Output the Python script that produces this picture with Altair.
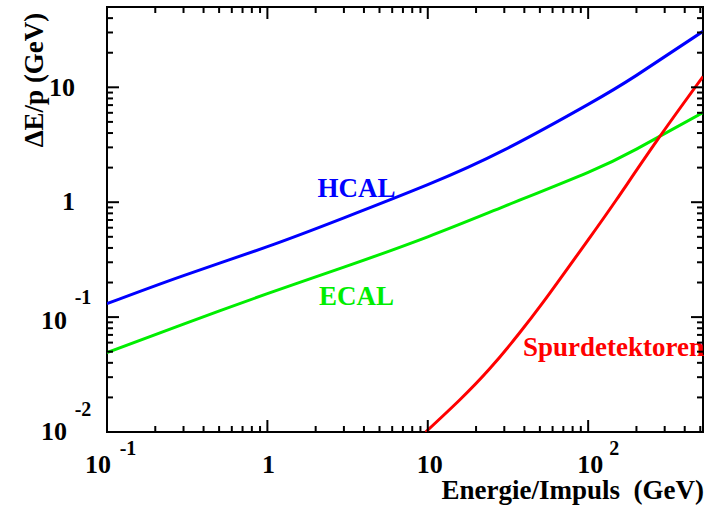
import altair as alt
import pandas as pd

# ---- data ----
hcal_e = [0.1, 0.3, 1, 3, 10, 30, 100, 200, 520]
hcal_de = [0.131, 0.23, 0.41, 0.73, 1.42, 2.85, 7.1, 12.7, 30.7]
ecal_e = [0.1, 0.3, 1, 3, 10, 30, 100, 200, 520]
ecal_de = [0.049, 0.087, 0.16, 0.272, 0.50, 0.92, 1.82, 2.90, 6.04]
trk_p = [9.7, 15.8, 24.3, 37.4, 52, 66, 100, 150, 271, 520]
trk_dp = [0.010, 0.019, 0.0355, 0.073, 0.133, 0.21, 0.47, 1.05, 3.5, 12.4]

series_names = ["HCAL", "ECAL", "Spurdetektoren"]
series_colors = ["#0000ff", "#00ee00", "#ff0000"]
label_x = [3.6, 3.6, 144]
label_y = [1.29, 0.150, 0.054]

x_major = [0.1, 1, 10, 100]
x_major_text = ["10", "1", "10", "10"]
x_minor = [0.2, 0.3, 0.4, 0.5, 0.6, 0.7, 0.8, 0.9,
           2, 3, 4, 5, 6, 7, 8, 9,
           20, 30, 40, 50, 60, 70, 80, 90,
           200, 300, 400, 500]
y_major = [0.01, 0.1, 1, 10]
y_major_text = ["10", "10", "1", "10"]
y_minor = [0.02, 0.03, 0.04, 0.05, 0.06, 0.07, 0.08, 0.09,
           0.2, 0.3, 0.4, 0.5, 0.6, 0.7, 0.8, 0.9,
           2, 3, 4, 5, 6, 7, 8, 9,
           20, 30, 40, 50]
x_exp_text = ["-1", "", "", "2"]
y_exp_text = ["-2", "-1", "", ""]

x_title = "Energie/Impuls\u00a0 (GeV)"
y_title = "ΔE/p (GeV)"

x_domain = [0.1, 520]
y_domain = [0.01, 50]

W, H = 596, 425
FONT = "Liberation Serif"

curves = pd.concat([
    pd.DataFrame({"x": hcal_e, "y": hcal_de, "s": "HCAL"}),
    pd.DataFrame({"x": ecal_e, "y": ecal_de, "s": "ECAL"}),
    pd.DataFrame({"x": trk_p, "y": trk_dp, "s": "Spurdetektoren"}),
])
labels = pd.DataFrame({"x": label_x, "y": label_y, "s": series_names})

xs = alt.Scale(type="log", domain=x_domain, nice=False)
ys = alt.Scale(type="log", domain=y_domain, nice=False)
cs = alt.Scale(domain=series_names, range=series_colors)

lines = alt.Chart(curves).mark_line(strokeWidth=3, clip=True, interpolate="natural").encode(
    x=alt.X("x:Q", scale=xs, axis=None),
    y=alt.Y("y:Q", scale=ys, axis=None),
    color=alt.Color("s:N", scale=cs, legend=None),
    detail="s:N",
)

texts = alt.Chart(labels).mark_text(font=FONT, fontWeight="bold", fontSize=27,
                                    align="center", baseline="middle").encode(
    x=alt.X("x:Q", scale=xs, axis=None),
    y=alt.Y("y:Q", scale=ys, axis=None),
    text="s:N",
    color=alt.Color("s:N", scale=cs, legend=None),
)


def xticks(vals, y0, y1):
    return alt.Chart(pd.DataFrame({"v": vals})).mark_rule(color="black", strokeWidth=2).encode(
        x=alt.X("v:Q", scale=xs, axis=None), y=alt.value(y0), y2=alt.value(y1))


def yticks(vals, x0, x1):
    return alt.Chart(pd.DataFrame({"v": vals})).mark_rule(color="black", strokeWidth=2).encode(
        y=alt.Y("v:Q", scale=ys, axis=None), x=alt.value(x0), x2=alt.value(x1))


MAJ, MIN = 12, 6
tick_layers = [
    xticks(x_major, H, H - MAJ), xticks(x_minor, H, H - MIN),
    xticks(x_major, 0, MAJ), xticks(x_minor, 0, MIN),
    yticks(y_major, 0, MAJ), yticks(y_minor, 0, MIN),
    yticks(y_major, W, W - MAJ), yticks(y_minor, W, W - MIN),
]


def xlab(i, text_list, dx, ypix, size):
    return alt.Chart(pd.DataFrame({"v": [x_major[i]], "t": [text_list[i]]})).mark_text(
        font=FONT, fontWeight="bold", fontSize=size, align="center", baseline="middle",
        dx=dx, color="black"
    ).encode(x=alt.X("v:Q", scale=xs, axis=None), y=alt.value(ypix), text="t:N")


def ylab(i, text_list, xpix, dy, size, align):
    return alt.Chart(pd.DataFrame({"v": [y_major[i]], "t": [text_list[i]]})).mark_text(
        font=FONT, fontWeight="bold", fontSize=size, align=align, baseline="middle",
        dy=dy, color="black"
    ).encode(y=alt.Y("v:Q", scale=ys, axis=None), x=alt.value(xpix), text="t:N")


LBL = 26
EXP = 20
label_layers = [
    # x axis: base numbers
    xlab(0, x_major_text, -9, H + 33, LBL),
    xlab(1, x_major_text, 1, H + 33, LBL),
    xlab(2, x_major_text, 2, H + 33, LBL),
    xlab(3, x_major_text, 2, H + 33, LBL),
    # x axis: exponents
    xlab(0, x_exp_text, 21, H + 17, EXP),
    xlab(3, x_exp_text, 26, H + 17, EXP),
    # y axis: base numbers
    ylab(0, y_major_text, -40, 0, LBL, "right"),
    ylab(1, y_major_text, -40, 4, LBL, "right"),
    ylab(2, y_major_text, -32, 0, LBL, "right"),
    ylab(3, y_major_text, -32, 1, LBL, "right"),
    # y axis: exponents
    ylab(0, y_exp_text, -24, -22, EXP, "center"),
    ylab(1, y_exp_text, -24, -19, EXP, "center"),
]

titles = [
    alt.Chart(pd.DataFrame({"t": [x_title]})).mark_text(
        font=FONT, fontWeight="bold", fontSize=27, align="right", baseline="middle", color="black"
    ).encode(x=alt.value(W + 1), y=alt.value(H + 59), text="t:N"),
    alt.Chart(pd.DataFrame({"t": [y_title]})).mark_text(
        font=FONT, fontWeight="bold", fontSize=27, align="center", baseline="middle",
        angle=270, color="black"
    ).encode(x=alt.value(-72), y=alt.value(73), text="t:N"),
]

chart = alt.layer(lines, texts, *tick_layers, *label_layers, *titles).properties(
    width=W, height=H,
    autosize=alt.AutoSizeParams(type="none"),
    padding={"left": 107, "top": 7, "right": 14, "bottom": 73},
    background="white",
).configure_view(stroke="black", strokeWidth=2)

chart.save("out.html", embed_options={"renderer": "svg", "actions": False})
